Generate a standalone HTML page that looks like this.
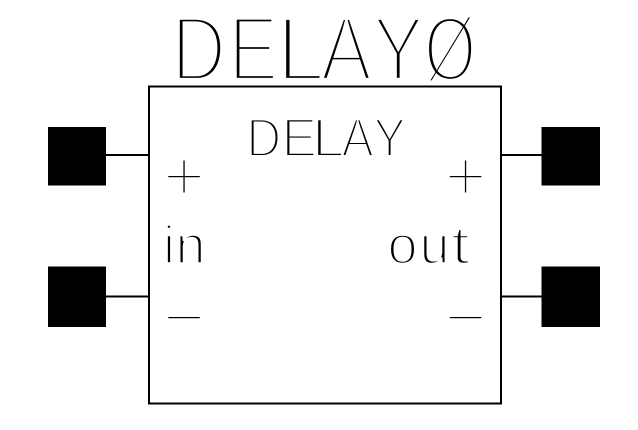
<!DOCTYPE html>
<html><head><meta charset="utf-8"><style>
html,body{margin:0;padding:0;background:#fff;width:638px;height:430px;overflow:hidden}
svg{display:block}
text{font-family:"Liberation Sans",sans-serif;fill:#000;stroke:#fff;stroke-linejoin:miter}
.t{font-size:92px;stroke-width:5.2px}
.m{font-size:55px;stroke-width:2.9px}
.s{font-size:54px;stroke-width:2.5px}
.p{font-size:73px;stroke-width:3.9px}
</style></head><body>
<svg width="638" height="430" viewBox="0 0 638 430" xmlns="http://www.w3.org/2000/svg">
<rect width="638" height="430" fill="#fff"/>
<g>
<text class="t" transform="translate(171.500,80.500) scale(.82,1)">D</text>
<text class="t" transform="translate(228.500,80.500) scale(.81,1)">E</text>
<text class="t" transform="translate(276,80.500) scale(1,1)">L</text>
<text class="t" transform="translate(320.500,80.500) scale(.84,1)">A</text>
<text class="t" transform="translate(372.500,80.500) scale(.84,1)">Y</text>
<text class="t" transform="translate(424,80.500) scale(.73,1)">Ø</text>
<text class="m" transform="translate(246.500,156.500) scale(.87,1)">D</text>
<text class="m" transform="translate(281.500,156.500) scale(.97,1)">E</text>
<text class="m" transform="translate(311.500,156.500) scale(1.12,1)">L</text>
<text class="m" transform="translate(341.500,156.500) scale(.88,1)">A</text>
<text class="m" transform="translate(373.500,156.500) scale(.88,1)">Y</text>
<text class="p" x="162.7" y="201">+</text>
<text class="p" x="444.2" y="201">+</text>
<text class="p" x="162.7" y="342">−</text>
<text class="p" x="444.2" y="342">−</text>
<text class="s" x="163" y="263.500">i</text>
<text class="s" x="175.500" y="263.500">n</text>
<text class="s" x="387.500" y="263.500">o</text>
<text class="s" x="419.500" y="263.500">u</text>
<text class="s" transform="translate(451,263.500) scale(1.25,1)">t</text>
</g>
<rect x="149" y="86.5" width="352" height="317" fill="none" stroke="#000" stroke-width="2"/>
<rect x="48" y="127" width="58" height="58.5" fill="#000"/>
<rect x="48" y="266.5" width="58" height="60.5" fill="#000"/>
<rect x="541.5" y="127" width="58.5" height="58.5" fill="#000"/>
<rect x="541.5" y="266.5" width="58.5" height="60.5" fill="#000"/>
<path d="M106 155H149M106 296.500H149M501 155H541.500M501 296.500H541.500" stroke="#000" stroke-width="2" fill="none"/>
</svg>
</body></html>
